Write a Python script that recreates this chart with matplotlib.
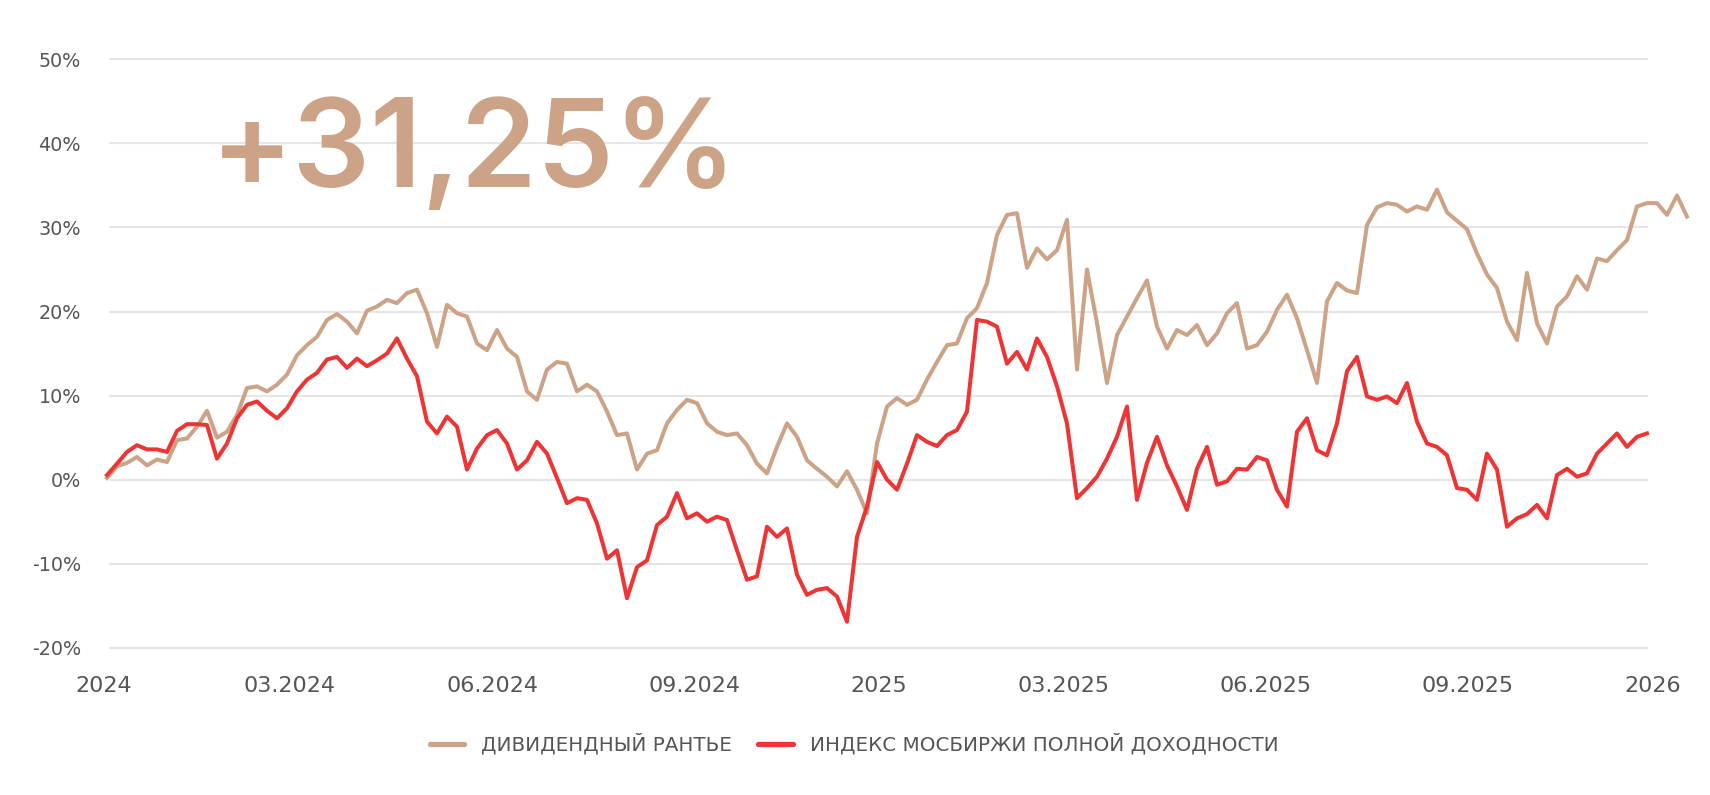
import matplotlib
matplotlib.use("Agg")
import matplotlib.pyplot as plt
import numpy as np

# ---------------- data (percent, roughly one point every few trading days) ----------------
dividend_rentier = [
    0.2, 1.6, 2.0, 2.7, 1.7, 2.4, 2.1, 4.7, 4.9, 6.3, 8.2, 5.0, 5.7, 7.7, 10.9, 11.1, 10.5, 11.3, 12.5, 14.8,
    16.0, 17.0, 19.0, 19.7, 18.8, 17.4, 20.1, 20.6, 21.4, 21.0, 22.2, 22.6, 19.8, 15.8, 20.8, 19.8, 19.4, 16.2, 15.4, 17.8,
    15.6, 14.6, 10.5, 9.5, 13.1, 14.0, 13.8, 10.5, 11.3, 10.5, 8.1, 5.3, 5.5, 1.2, 3.1, 3.5, 6.7, 8.3, 9.5, 9.1,
    6.7, 5.7, 5.3, 5.5, 4.1, 1.9, 0.75, 3.9, 6.7, 5.1, 2.3, 1.3, 0.35, -0.8, 1.0, -1.2, -4.0, 4.3, 8.7, 9.7,
    8.9, 9.5, 11.9, 14.0, 16.0, 16.2, 19.2, 20.4, 23.4, 29.1, 31.5, 31.7, 25.2, 27.5, 26.2, 27.3, 30.9, 13.1, 25.0, 18.6,
    11.5, 17.2, 19.4, 21.6, 23.7, 18.2, 15.6, 17.8, 17.2, 18.4, 16.0, 17.4, 19.8, 21.0, 15.6, 16.0, 17.6, 20.2, 22.0, 19.2,
    15.4, 11.5, 21.2, 23.4, 22.5, 22.2, 30.3, 32.4, 32.9, 32.7, 31.9, 32.5, 32.1, 34.5, 31.8, 30.8, 29.8, 26.9, 24.4, 22.8,
    18.8, 16.6, 24.6, 18.6, 16.2, 20.6, 21.8, 24.2, 22.6, 26.3, 26.0, 27.3, 28.5, 32.5, 32.9, 32.9, 31.5, 33.8, 31.3,
]

moex_total_return = [
    0.55, 1.9, 3.3, 4.1, 3.6, 3.6, 3.3, 5.8, 6.6, 6.6, 6.5, 2.5, 4.3, 7.3, 8.9, 9.3, 8.2, 7.3, 8.5, 10.5,
    11.9, 12.7, 14.3, 14.6, 13.3, 14.4, 13.5, 14.2, 15.0, 16.8, 14.4, 12.3, 6.9, 5.5, 7.5, 6.3, 1.2, 3.7, 5.3, 5.9,
    4.3, 1.2, 2.3, 4.5, 3.1, 0.2, -2.8, -2.2, -2.4, -5.2, -9.4, -8.4, -14.1, -10.4, -9.6, -5.4, -4.4, -1.6, -4.6, -4.0,
    -5.0, -4.4, -4.8, -8.4, -11.9, -11.5, -5.6, -6.8, -5.8, -11.3, -13.7, -13.1, -12.9, -13.9, -16.9, -6.8, -3.2, 2.1, 0.0, -1.2,
    1.9, 5.3, 4.5, 4.0, 5.3, 5.9, 8.1, 19.0, 18.8, 18.2, 13.8, 15.2, 13.1, 16.8, 14.6, 11.1, 6.7, -2.2, -1.0, 0.35,
    2.5, 5.1, 8.7, -2.4, 2.0, 5.1, 1.7, -0.8, -3.6, 1.3, 3.9, -0.6, -0.2, 1.3, 1.2, 2.7, 2.3, -1.2, -3.2, 5.7,
    7.3, 3.5, 2.9, 6.7, 12.9, 14.6, 9.9, 9.5, 9.9, 9.1, 11.5, 6.9, 4.3, 3.9, 2.9, -1.0, -1.2, -2.4, 3.1, 1.2,
    -5.6, -4.6, -4.1, -3.0, -4.6, 0.55, 1.3, 0.35, 0.75, 3.1, 4.3, 5.5, 3.9, 5.1, 5.5,
]

series_names = ["ДИВИДЕНДНЫЙ РАНТЬЕ", "ИНДЕКС МОСБИРЖИ ПОЛНОЙ ДОХОДНОСТИ"]
x_tick_labels = ["2024", "03.2024", "06.2024", "09.2024", "2025", "03.2025", "06.2025", "09.2025", "2026"]
y_ticks = [-20, -10, 0, 10, 20, 30, 40, 50]
headline = "+31,25%"

# ---------------- layout / style ----------------
W, H = 1710, 795
TAN = "#CCA387"
RED = "#EE3535"
GRAY = "#555555"
GRID = "#E6E6E6"
x_tick_pos = [-0.3, 18.25, 38.5, 58.7, 77.2, 95.7, 115.9, 136.1, 154.6]

fig = plt.figure(figsize=(W / 100, H / 100), dpi=100)
fig.patch.set_facecolor("white")
ax = fig.add_axes([100 / W, (H - 660) / H, 1600 / W, 620 / H])
ax.set_xlim(-0.7, 159.3)
ax.set_ylim(-21.45, 52.3)
for s in ax.spines.values():
    s.set_visible(False)
ax.set_facecolor("none")

ax.hlines(y_ticks, 0.2, 154.1, color=GRID, lw=1.5, zorder=0)

l1, = ax.plot(np.arange(len(dividend_rentier)), dividend_rentier, color=TAN, lw=2.9,
              solid_joinstyle="round", zorder=2, clip_on=False)
l2, = ax.plot(np.arange(len(moex_total_return)), moex_total_return, color=RED, lw=2.9,
              solid_joinstyle="round", zorder=3, clip_on=False)

ax.set_yticks(y_ticks)
ax.set_yticklabels([f"{v}%" for v in y_ticks])
ax.tick_params(axis="y", length=0, pad=13.7, labelsize=13.8, labelcolor=GRAY)
ax.set_xticks(x_tick_pos)
ax.set_xticklabels(x_tick_labels)
ax.tick_params(axis="x", length=0, pad=11.5, labelsize=16, labelcolor=GRAY)

fig.text(211 / W, 1 - 187 / H, headline, fontsize=88, family=["Inter", "Open Sans"], weight="semibold",
         color=TAN, ha="left", va="baseline")

leg = fig.legend([l1, l2], series_names, loc="center", bbox_to_anchor=(854 / W, 1 - 744 / H),
                 ncol=2, frameon=False, fontsize=14.3, handlelength=1.76, handletextpad=0.85,
                 columnspacing=1.3, labelcolor=GRAY)
for ln in leg.get_lines():
    ln.set_linewidth(3.8)
    ln.set_solid_capstyle("round")

fig.savefig("out.png", dpi=100, facecolor="white")
